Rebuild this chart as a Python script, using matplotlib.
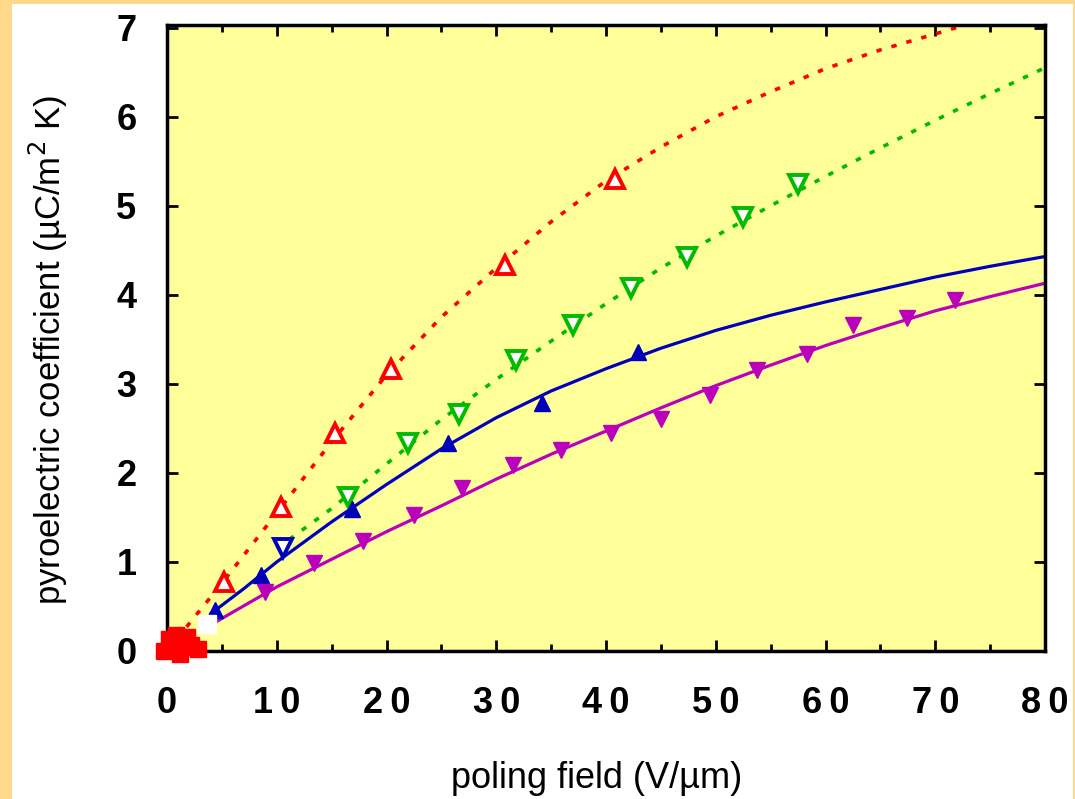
import matplotlib
matplotlib.use('Agg')
import matplotlib.pyplot as plt
from matplotlib.patches import Rectangle
from matplotlib.ticker import MultipleLocator, FuncFormatter

# measured points (V/um, uC/m2K)
red_x = [5.2, 10.4, 15.3, 20.4, 30.8, 40.8]
red_y = [0.78, 1.62, 2.45, 3.17, 4.33, 5.3]
red_fit_x = [0, 5, 10, 15, 20, 25, 30, 35, 40, 45, 50, 55, 60, 65, 70, 73]
red_fit_y = [0.0, 0.76, 1.55, 2.35, 3.1, 3.75, 4.3, 4.82, 5.28, 5.66, 6.0, 6.28, 6.54, 6.75, 6.93, 7.04]

green_x = [16.5, 22.0, 26.6, 31.8, 37.0, 42.3, 47.4, 52.5, 57.5]
green_y = [1.73, 2.34, 2.66, 3.27, 3.66, 4.08, 4.43, 4.87, 5.24]
green_fit_x = [10, 15, 20, 25, 30, 35, 40, 45, 50, 55, 60, 65, 70, 75, 80]
green_fit_y = [1.15, 1.6, 2.1, 2.6, 3.05, 3.48, 3.9, 4.3, 4.66, 5.0, 5.33, 5.65, 5.96, 6.26, 6.55]

blue_x = [4.4, 8.6, 16.9, 25.6, 34.2, 42.9]
blue_y = [0.46, 0.85, 1.6, 2.34, 2.79, 3.36]
blue_open_x = [10.6]
blue_open_y = [1.16]
blue_fit_x = [4, 7, 10, 15, 20, 25, 30, 35, 40, 45, 50, 55, 60, 65, 70, 75, 80]
blue_fit_y = [0.42, 0.7, 1.0, 1.45, 1.87, 2.27, 2.62, 2.92, 3.17, 3.4, 3.6, 3.77, 3.92, 4.06, 4.2, 4.32, 4.43]

mag_x = [8.9, 13.4, 17.9, 22.5, 26.9, 31.5, 35.9, 40.5, 45.0, 49.5, 53.8, 58.3, 62.5, 67.4, 71.8]
mag_y = [0.66, 0.99, 1.24, 1.53, 1.83, 2.09, 2.26, 2.45, 2.6, 2.88, 3.16, 3.33, 3.66, 3.74, 3.94]
mag_fit_x = [4.5, 10, 15, 20, 25, 30, 35, 40, 45, 50, 55, 60, 65, 70, 75, 80]
mag_fit_y = [0.33, 0.72, 1.03, 1.34, 1.63, 1.93, 2.21, 2.47, 2.73, 2.98, 3.21, 3.43, 3.63, 3.82, 3.98, 4.13]

# red cluster near origin, plus a white blot
origin_x = [-0.3, 0.4, 1.0, 1.6, 2.2, 0.2, 1.2, 2.8, 0.8, 1.8]
origin_y = [0.0, 0.05, 0.1, 0.04, 0.07, 0.13, -0.03, 0.02, 0.18, 0.16]
blot_x = [3.6]
blot_y = [0.3]

fig = plt.figure(figsize=(10.75, 7.99), dpi=100)
fig.patch.set_facecolor('#FFD88C')
# white page inside the orange frame
fig.patches.append(Rectangle((12 / 1075, 0), 1061 / 1075, 795 / 799,
                             transform=fig.transFigure, facecolor='white',
                             edgecolor='none', zorder=-10))

ax = fig.add_axes([167 / 1075, 1 - 651 / 799, 878 / 1075, 626 / 799])
ax.set_facecolor('#FFFF99')

ax.plot(red_fit_x, red_fit_y, color='#FF0000', lw=2.6, ls=(0, (1.5, 2.8)))
ax.plot(green_fit_x, green_fit_y, color='#00BB00', lw=2.6, ls=(0, (1.5, 2.8)))
ax.plot(blue_fit_x, blue_fit_y, color='#0000BB', lw=2.3)
ax.plot(mag_fit_x, mag_fit_y, color='#BB00BB', lw=2.3)

ax.plot(red_x, red_y, ls='none', marker='^', ms=13, mfc='white', mec='#FF0000', mew=2.8)
ax.plot(green_x, green_y, ls='none', marker='v', ms=13, mfc='white', mec='#00BB00', mew=2.8)
ax.plot(blue_open_x, blue_open_y, ls='none', marker='v', ms=13, mfc='white', mec='#0000BB', mew=2.8)
ax.plot(blue_x, blue_y, ls='none', marker='^', ms=11, color='#0000BB')
ax.plot(mag_x, mag_y, ls='none', marker='v', ms=11, color='#BB00BB')
ax.plot(blot_x, blot_y, ls='none', marker='s', ms=13, mfc='white', mec='white', zorder=4)
ax.plot(origin_x, origin_y, ls='none', marker='s', ms=11, color='#FF0000', clip_on=False, zorder=5)

ax.set_xlim(0, 80)
ax.set_ylim(0, 7.03)
ax.xaxis.set_major_locator(MultipleLocator(10))
ax.xaxis.set_minor_locator(MultipleLocator(5))
ax.yaxis.set_major_locator(MultipleLocator(1))
ax.xaxis.set_major_formatter(FuncFormatter(lambda v, p: '\u2009'.join(str(int(round(v))))))
ax.tick_params(which='both', direction='in', top=True, right=True, width=2)
ax.tick_params(which='major', length=8)
ax.tick_params(which='minor', length=5)
ax.tick_params(axis='x', pad=25)
ax.tick_params(axis='y', pad=22)
for s in ax.spines.values():
    s.set_linewidth(2.5)

for lab in ax.get_xticklabels() + ax.get_yticklabels():
    lab.set_fontfamily('Liberation Sans')
    lab.set_fontweight('bold')
    lab.set_fontsize(26)

ax.set_xlabel('poling field (V/\u00b5m)', fontsize=26, family='Liberation Sans')
ax.xaxis.set_label_coords(0.489, -0.175)
ax.set_ylabel('pyroelectric coefficient (\u00b5C/m$^2$ K)', fontsize=25,
              family='Liberation Sans')
ax.yaxis.set_label_coords(-0.11, 0.48)

plt.savefig('out.png', dpi=100, facecolor=fig.get_facecolor())
